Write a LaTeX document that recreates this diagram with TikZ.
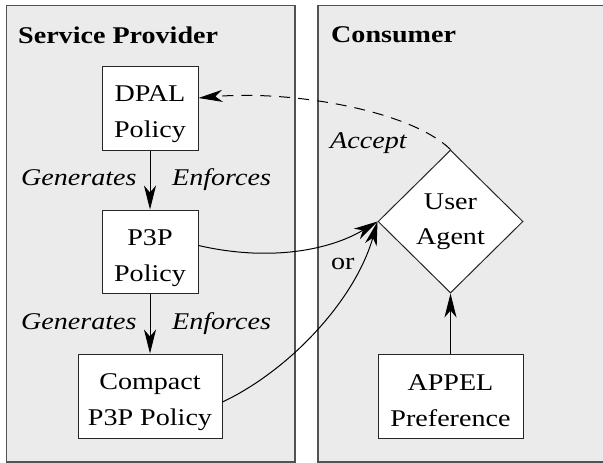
\documentclass[tikz,border=0pt]{standalone}
\usepackage{fontspec}
\setmainfont{Liberation Serif}[FakeStretch=1.17]
\usetikzlibrary{shapes.geometric,arrows.meta}
% struts that set the first-line height and last-line depth of box texts
\newcommand\upstrut{\rule{0pt}{29pt}}
\newcommand\dnstrut{\rule[-5pt]{0pt}{5pt}}
\begin{document}
\begin{tikzpicture}[x=1pt,y=-1pt,
  panel/.style={draw=black!68,fill=black!8,line width=1.5pt},
  box/.style={draw=black!85,fill=white,line width=1pt,inner sep=0pt,align=center,
    font=\fontsize{24}{36}\selectfont},
  title/.style={anchor=base west,inner sep=0pt,font=\fontsize{24}{28}\selectfont\bfseries},
  lbl/.style={anchor=base west,inner sep=0pt,font=\fontsize{24}{28}\selectfont\itshape},
  plain/.style={anchor=base west,inner sep=0pt,font=\fontsize{24}{28}\selectfont},
  tip/.style={-{Stealth[length=24pt,width=12pt,inset=7pt]},line width=1pt},
]
\useasboundingbox (0,0) rectangle (603,463);
\clip (0,0) rectangle (603,463);

% the two parties
\draw[panel] (6.5,5.5) rectangle (295,462);
\draw[panel] (318,5.5) rectangle (620,462);
\node[title] (sp) at (18,43) {Service Provider};
\node[title] (cs) at (331,42) {Consumer};

% provider side
\node[box,minimum width=96pt,minimum height=84pt] (dpal) at (150,108) {\upstrut DPAL\\Policy\dnstrut};
\node[box,minimum width=96pt,minimum height=83pt] (p3p) at (150,251.5) {\upstrut P3P\\Policy\dnstrut};
\node[box,minimum width=144pt,minimum height=84pt] (cp) at (150,396) {\upstrut Compact\\P3P Policy\dnstrut};

% consumer side
\node[draw=black!85,fill=white,line width=1pt,diamond,inner sep=0pt,
  minimum width=145pt,minimum height=143pt,align=center,
  font=\fontsize{24}{35}\selectfont] (ua) at (450.5,221.5) {User\\Agent};
\node[box,minimum width=145pt,minimum height=84pt] (appel) at (450.5,396) {\upstrut APPEL\\Preference\dnstrut};

% labels
\node[lbl] (g1) at (21,185) {Generates};
\node[lbl] (e1) at (172,185) {Enforces};
\node[lbl] (g2) at (21,329) {Generates};
\node[lbl] (e2) at (172,329) {Enforces};
\node[lbl] (acc) at (330,148) {Accept};
\node[plain] (or) at (331,269) {or};

% connectors
\draw[tip] (dpal.south) -- (p3p.north);
\draw[tip] (p3p.south) -- (cp.north);
\draw[tip] (appel.north) -- (ua.south);
\draw[tip] ([yshift=6pt]p3p.east) .. controls (270,262) and (330,250) .. (ua.west);
\draw[tip] ([yshift=-6pt]cp.east) .. controls (290,370) and (355,300) .. (ua.west);
\draw[tip,dash pattern=on 11pt off 8pt] (ua.north) .. controls (410,110) and (290,90) .. ([yshift=10pt]dpal.east);
\end{tikzpicture}
\end{document}
